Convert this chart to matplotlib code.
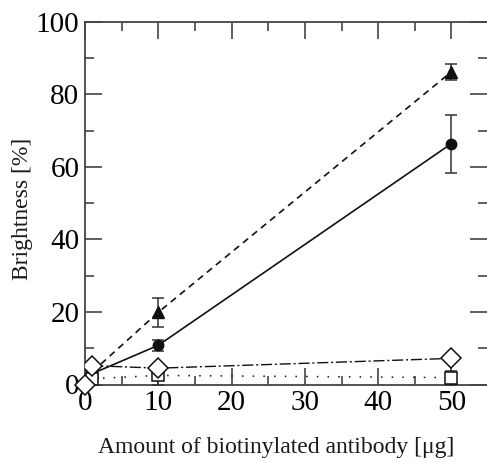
import matplotlib
matplotlib.use("Agg")
import matplotlib.pyplot as plt
from matplotlib.ticker import MultipleLocator

plt.rcParams['font.family'] = ['Liberation Serif', 'DejaVu Serif']

x = [1, 10, 50]
tri_y = [3.5, 19.9, 86.2]
tri_err = [0.5, 4.0, 2.2]
circ_y = [3.0, 10.8, 66.4]
circ_err = [0.5, 1.6, 8.0]
dia_y = [5.2, 4.5, 7.2]
dia_err = [0.5, 0.8, 0.5]
sq_y = [1.6, 2.5, 1.9]
sq_err = [0.5, 2.5, 1.9]
origin_x = [0]
origin_y = [0]

W, H = 487, 462
fig = plt.figure(figsize=(W/100, H/100), dpi=100)
ax = fig.add_axes([85/W, 1-384.5/H, 402/W, (384.5-21.7)/H])

lc = '#111111'
ekw = dict(ecolor='#333333', elinewidth=1.1, capsize=4.5, capthick=1.1)
ax.errorbar(x, circ_y, yerr=circ_err, fmt='o', ls='-', color=lc, lw=1.2,
            mfc=lc, mec=lc, ms=7.5, **ekw, zorder=3)
ax.errorbar(x, tri_y, yerr=tri_err, fmt='^', ls=(0, (4, 3)), color=lc, lw=1.2,
            mfc=lc, mec=lc, ms=8.5, **ekw, zorder=3)
ax.errorbar(x, sq_y, yerr=sq_err, fmt='s', ls=(0, (1, 6)), color=lc, lw=1.1,
            mfc='white', mec=lc, ms=8, mew=1.1, **ekw, zorder=5)
ax.errorbar(x, dia_y, yerr=dia_err, fmt='D', ls=(0, (8, 2, 1.5, 2)), color=lc, lw=1.0,
            mfc='white', mec=lc, ms=10, mew=1.1, **ekw, zorder=6)
ax.plot(origin_x, origin_y, 'D', mfc='white', mec=lc, ms=10, mew=1.1, clip_on=False, zorder=7)

ax.set_xlim(0, 54.85)
ax.set_ylim(0, 100)
ax.xaxis.set_major_locator(MultipleLocator(10))
ax.xaxis.set_minor_locator(MultipleLocator(5))
ax.yaxis.set_major_locator(MultipleLocator(20))
ax.yaxis.set_minor_locator(MultipleLocator(10))

sc = '#444444'
for s in ax.spines.values():
    s.set_color(sc)
    s.set_linewidth(1.3)
ax.spines['right'].set_visible(False)

ax.tick_params(which='both', direction='in', top=True, right=True, color=sc, width=1.2,
               labelsize=21, labelcolor='black')
ax.tick_params(which='major', length=12)
ax.tick_params(which='minor', length=6.5)
ax.tick_params(axis='y', pad=4)
ax.tick_params(axis='x', pad=4)

ax.set_xlabel('Amount of biotinylated antibody [\u03bcg]', fontsize=17, color='#1a1a1a')
ax.set_ylabel('Brightness [%]', fontsize=17, color='#1a1a1a')
ax.xaxis.set_label_coords(0.475, -0.145)
ax.yaxis.set_label_coords(-0.13, 0.484)

fig.savefig('out.png', dpi=100)
